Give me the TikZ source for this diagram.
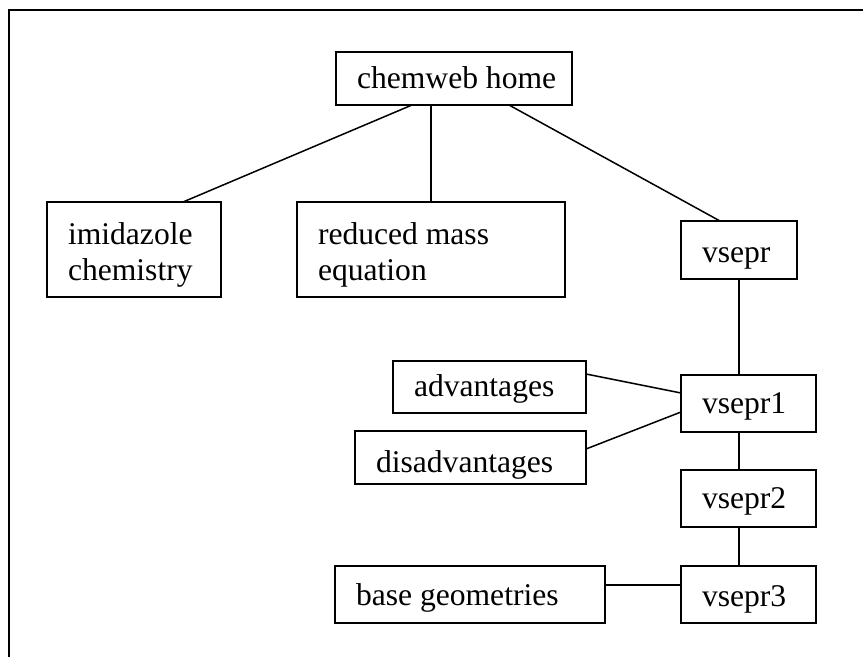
\documentclass[tikz,border=0pt]{standalone}
\usepackage{fontspec}
\setmainfont{Liberation Serif}
\newcommand\bxline[1]{\hbox to \hsize{\hskip21pt\smash{#1}\hss}\vskip36pt}
\newcommand\cellbox[4]{\vbox to #2pt{\hsize=#1pt\offinterlineskip\vskip#3pt #4\vss}}
\tikzset{
  bx/.style={draw, line width=1.6pt, inner sep=0pt, outer sep=0pt, anchor=north west,
    font=\fontsize{31.6}{36}\selectfont},
  conn/.style={line width=1.5pt},
  frame/.style={line width=2pt}
}
\begin{document}
\begin{tikzpicture}[x=1pt,y=-1pt]
\useasboundingbox (0,0) rectangle (863,657);
\draw[frame] (9,657) -- (9,10) -- (863,10);
\node[bx] (home) at (336,52) {\cellbox{236}{53}{36}{\bxline{chemweb home}}};
\node[bx] (imid) at (47,202) {\cellbox{174}{95}{42}{\bxline{imidazole}\bxline{chemistry}}};
\node[bx] (red) at (297,202) {\cellbox{268}{95}{42}{\bxline{reduced mass}\bxline{equation}}};
\node[bx] (vsepr) at (681,221) {\cellbox{116}{58}{41}{\bxline{vsepr}}};
\node[bx] (adv) at (393,361) {\cellbox{193}{52}{35}{\bxline{advantages}}};
\node[bx] (dis) at (355,431) {\cellbox{231}{53}{41}{\bxline{disadvantages}}};
\node[bx] (v1) at (681,375) {\cellbox{135}{57}{38}{\bxline{vsepr1}}};
\node[bx] (v2) at (681,470) {\cellbox{135}{57}{38}{\bxline{vsepr2}}};
\node[bx] (v3) at (681,566) {\cellbox{135}{57}{40}{\bxline{vsepr3}}};
\node[bx] (base) at (335,566) {\cellbox{270}{57}{39}{\bxline{base geometries}}};
\draw[conn] ([xshift=76pt]home.south west) -- ([xshift=136pt]imid.north west);
\draw[conn] ([xshift=95pt]home.south west) -- ([xshift=134pt]red.north west);
\draw[conn] ([xshift=173pt]home.south west) -- ([xshift=39pt]vsepr.north west);
\draw[conn] ([xshift=58pt]vsepr.south west) -- ([xshift=58pt]v1.north west);
\draw[conn] ([yshift=-13pt]adv.north east) -- ([yshift=-18pt]v1.north west);
\draw[conn] ([yshift=-18pt]dis.north east) -- ([yshift=-37pt]v1.north west);
\draw[conn] ([xshift=58pt]v1.south west) -- ([xshift=58pt]v2.north west);
\draw[conn] ([xshift=58pt]v2.south west) -- ([xshift=58pt]v3.north west);
\draw[conn] ([yshift=-19pt]base.north east) -- ([yshift=-19pt]v3.north west);
\end{tikzpicture}
\end{document}
